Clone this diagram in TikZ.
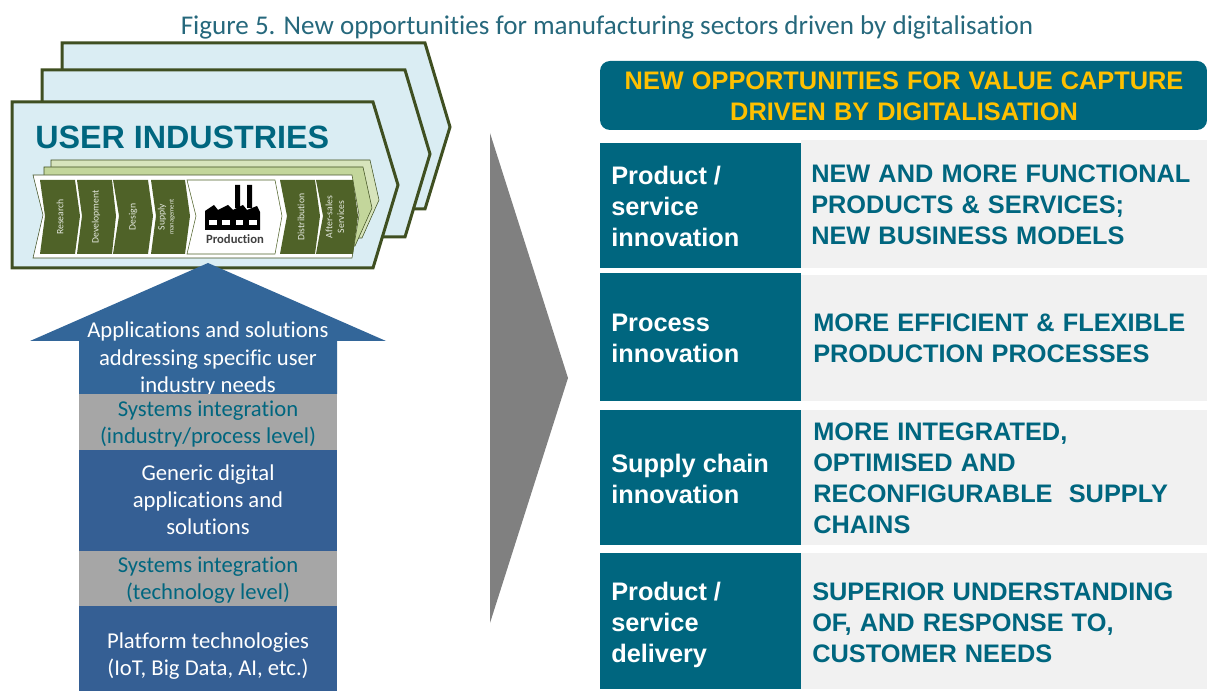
\documentclass[tikz,border=0pt]{standalone}
\usepackage{xcolor}
\usepackage{fontspec}
\usetikzlibrary{arrows}
\setmainfont[Ligatures=NoCommon]{Carlito}
\newfontfamily\arialbold[BoldFont=Liberation Sans Bold]{Liberation Sans}
\newfontfamily\arialwide[BoldFont=Liberation Sans Bold,BoldFeatures={Scale=1.0005,WordSpace=1.15}]{Liberation Sans}
\definecolor{tealbar}{HTML}{00667F}
\definecolor{titleteal}{HTML}{26687C}
\definecolor{goldtxt}{HTML}{FFC000}
\definecolor{olivedark}{HTML}{4F6228}
\definecolor{oliveline}{HTML}{3F4F21}
\definecolor{palesky}{HTML}{DAEDF3}
\definecolor{pillar}{HTML}{355F94}
\definecolor{pillartop}{HTML}{336699}
\definecolor{pillargrey}{HTML}{A6A6A6}
\definecolor{rowgrey}{HTML}{F1F1F1}
\definecolor{backleaf}{HTML}{D7E4BC}
\definecolor{midleaf}{HTML}{C3D69B}
\tikzset{
 sheet/.style = {draw=oliveline, line width=2.25pt, fill=palesky, line join=miter},
 rowlabel/.style = {anchor=west, align=left, text=white, inner sep=0pt,
   font=\arialbold\bfseries\fontsize{19}{23.25}\selectfont},
 rowtext/.style = {anchor=west, align=left, text=tealbar, inner sep=0pt,
   font=\arialwide\bfseries\fontsize{19}{23.25}\selectfont},
 pillartxt/.style = {align=center, text=white, inner sep=0pt,
   font=\fontsize{17}{20.4}\selectfont},
 greytxt/.style = {align=center, text=tealbar, inner sep=0pt,
   font=\fontsize{17}{20.4}\selectfont},
 steptxt/.style = {rotate=90, align=center, text=white!85!olivedark, inner sep=0pt,
   font=\fontsize{7.3}{8.8}\selectfont}
}

\begin{document}
\begin{tikzpicture}[x=0.75pt, y=-0.75pt]
\useasboundingbox (0,0) rectangle (1207,691);

\node[text=titleteal, inner sep=0pt, font=\fontsize{20.3}{24}\selectfont] (title) at (607,27)
  {Figure 5. New opportunities for manufacturing sectors driven by digitalisation};

% stacked industry sheets
\foreach \l/\t/\r/\p/\m/\b in {62/43/425/450/127/209, 42/70/405/430/154/237, 12/102/373/398/185/268} {
 \draw[sheet] (\l,\t) -- (\r,\t) -- (\p,\m) -- (\r,\b) -- (\l,\b) -- cycle;
}
\node[anchor=base west, inner sep=0pt, text=tealbar, font=\arialbold\bfseries\fontsize{24.2}{26}\selectfont]
  (users) at (35,149) {USER INDUSTRIES};

% value chain, back layers
\draw[oliveline, fill=backleaf] (51,160) -- (370,160) -- (379,200) -- (362,238) -- (51,238) -- cycle;
\draw[oliveline, fill=midleaf] (44,167) -- (363,167) -- (372,208) -- (355,246) -- (44,246) -- cycle;
\draw[oliveline, fill=white] (33,175) -- (352,175) -- (359,215) -- (352,258) -- (33,258) -- (43,215) -- cycle;

\foreach \l/\n/\r/\p in {40/45/75/80, 77/82/112/116, 113/119/148/153, 151/156/185/190, 280/287/315/320, 316/323/353/358} {
 \fill[olivedark] (\l,180) -- (\r,180) -- (\p,216) -- (\r,254) -- (\l,254) -- (\n,216) -- cycle;
}
\draw[olivedark, fill=white] (187,180) -- (275,180) -- (282,216) -- (275,254) -- (187,254) -- (196,216) -- cycle;

\node[steptxt] (research) at (60,217) {Research};
\node[steptxt] (development) at (96,217) {Development};
\node[steptxt] (design) at (133,217) {Design};
\node[steptxt] (supply) at (162,217) {Supply};
\node[steptxt, font=\fontsize{5}{6}\selectfont] (management) at (172,217) {management};
\node[steptxt] (distribution) at (301,217) {Distribution};
\node[steptxt] (aftersales) at (335,217) {After-sales\\Services};

% factory
\fill[black] (235,185) rectangle (240,208) (247,185) rectangle (252,208);
\fill[black] (205,230) -- (205,211) -- (214,205) -- (218,210) -- (228,205) -- (233,210)
  -- (243,205) -- (247,210) -- (257,206) -- (260,212) -- (260,230) -- cycle;
\foreach \l/\r in {209/217, 222/230, 236/243, 249/257} {
 \fill[white] (\l,220) rectangle (\r,225);
}
\node[inner sep=0pt, text=black!75, font=\bfseries\fontsize{9.5}{11}\selectfont] (production) at (235,239) {Production};

% pillar
\fill[pillartop] (208,263) -- (386,341) -- (337,341) -- (337,394) -- (79,394) -- (79,341) -- (30,341) -- cycle;
\fill[pillar] (79,450) rectangle (337,551);
\fill[pillar] (79,606) rectangle (337,691);
\node[pillartxt] (apps) at (208,359) {Applications and solutions\\addressing specific user\\industry needs};
\fill[pillargrey] (79,394) rectangle (337,450);
\fill[pillargrey] (79,551) rectangle (337,606);
\node[greytxt] (sysind) at (208,424) {Systems integration\\(industry/process level)};
\node[pillartxt] (generic) at (208,500) {Generic digital\\applications and\\solutions};
\node[greytxt] (systech) at (208,580) {Systems integration\\(technology level)};
\node[pillartxt] (platform) at (208,656) {Platform technologies\\(IoT, Big Data, AI, etc.)};

% big arrow head
\fill[black!50] (490,133) -- (568,378) -- (490,623) -- cycle;

% header
\fill[tealbar, rounded corners=7.5pt] (600,61) rectangle (1207,130);
\node[align=center, inner sep=0pt, text=goldtxt, font=\arialwide\bfseries\fontsize{19}{23.25}\selectfont]
  (header) at (904,96) {NEW OPPORTUNITIES FOR VALUE CAPTURE\\DRIVEN BY DIGITALISATION};

% rows
\foreach \g/\t/\b in {140/143/268, 275/273/401, 410/410/545, 553/553/689} {
 \fill[rowgrey] (801,\g) rectangle (1207,\b);
 \fill[tealbar] (600,\t) rectangle (801,\b);
}
\node[rowlabel] (lab1) at (611,206) {Product /\\service\\innovation};
\node[rowlabel] (lab2) at (611,338) {Process\\innovation};
\node[rowlabel] (lab3) at (611,479) {Supply chain\\innovation};
\node[rowlabel] (lab4) at (611,625) {Product /\\service\\delivery};
\node[rowtext] (txt1) at (811,205) {NEW AND MORE FUNCTIONAL\\PRODUCTS \& SERVICES;\\NEW BUSINESS MODELS};
\node[rowtext] (txt2) at (813,338) {MORE EFFICIENT \& FLEXIBLE\\PRODUCTION PROCESSES};
\node[rowtext] (txt3) at (813,478) {MORE INTEGRATED,\\OPTIMISED AND\\RECONFIGURABLE\ \ SUPPLY\\CHAINS};
\node[rowtext] (txt4) at (812,623) {SUPERIOR UNDERSTANDING\\OF, AND RESPONSE TO,\\CUSTOMER NEEDS};
\end{tikzpicture}
\end{document}
